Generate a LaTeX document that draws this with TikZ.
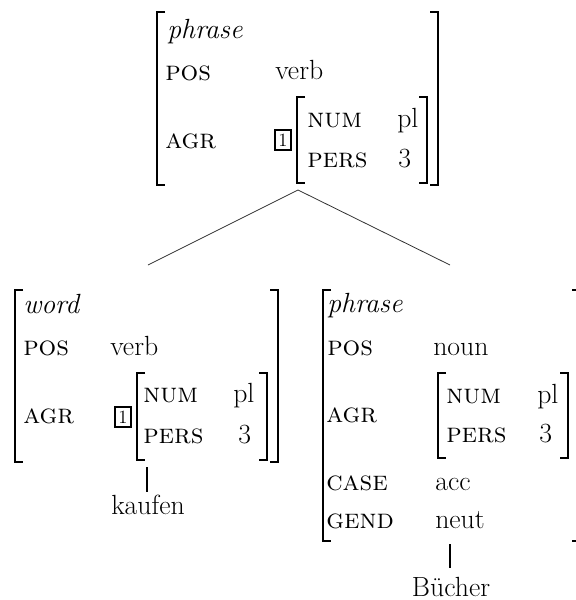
\documentclass[tikz,border=0pt]{standalone}
\begin{document}
\begin{tikzpicture}[x=0.75pt, y=-0.75pt,
    every node/.style={inner sep=0pt, anchor=base west, font=\fontsize{20.8}{24}\selectfont},
    feat/.style={font=\fontsize{20.8}{24}\selectfont\scshape},
    tagbox/.style={draw, line width=1.3pt, anchor=center, minimum width=12.5pt, minimum height=14.5pt, font=\fontsize{14}{16}\selectfont},
    brak/.style={line width=1.1pt},
    branch/.style={line width=0.6pt, draw=black!80},
    stem/.style={line width=1.5pt}]
  \useasboundingbox (0,0) rectangle (575,600);

  % mother node
  \node (m-type) at (167,38) {\textit{phrase}};
  \node[feat] (m-pos) at (165,80) {pos};
  \node (m-posv) at (275,79) {verb};
  \node[feat] (m-agr) at (165,148) {agr};
  \node[tagbox] (m-tag) at (283,140) {1};
  \node[feat] (m-num) at (307,127) {num};
  \node (m-numv) at (397,127) {pl};
  \node[feat] (m-pers) at (307,167) {pers};
  \node (m-persv) at (398,167) {3};

  % left daughter
  \node (l-type) at (23,313) {\textit{word}};
  \node[feat] (l-pos) at (23,355) {pos};
  \node (l-posv) at (110,355) {verb};
  \node[feat] (l-agr) at (23,423) {agr};
  \node[tagbox] (l-tag) at (123,417) {1};
  \node[feat] (l-num) at (143,402) {num};
  \node (l-numv) at (233,402) {pl};
  \node[feat] (l-pers) at (143,443) {pers};
  \node (l-persv) at (238,443) {3};

  % right daughter
  \node (r-type) at (327,312) {\textit{phrase}};
  \node[feat] (r-pos) at (327,355) {pos};
  \node (r-posv) at (433,355) {noun};
  \node[feat] (r-agr) at (326,422) {agr};
  \node[feat] (r-num) at (446,403) {num};
  \node (r-numv) at (537,403) {pl};
  \node[feat] (r-pers) at (446,442) {pers};
  \node (r-persv) at (539,442) {3};
  \node[feat] (r-case) at (326,490) {case};
  \node (r-casev) at (435,490) {acc};
  \node[feat] (r-gend) at (326,528) {gend};
  \node (r-gendv) at (435,528) {neut};

  % brackets: x/top/bottom
  \foreach \x/\t/\b in {157/12/185, 297/97/183, 15/290/462, 137/373/460, 323/290/541, 438/373/458}{
    \draw[brak] (\x+8,\t) -- (\x,\t) -- (\x,\b) -- (\x+8,\b);
  }
  \foreach \x/\t/\b in {438/12/185, 427/97/183, 278/290/462, 267/373/460, 580/290/541, 568/373/458}{
    \draw[brak] (\x-8,\t) -- (\x,\t) -- (\x,\b) -- (\x-8,\b);
  }

  % tree
  \coordinate (m-foot) at (298,190);
  \coordinate (l-head) at (148,265);
  \coordinate (r-head) at (450,265);
  \draw[branch] (l-head) -- (m-foot) -- (r-head);

  % words
  \node[anchor=base] (kaufen) at (148,514) {kaufen};
  \node[anchor=base] (buecher) at (451,596) {Bücher};
  \coordinate (l-foot) at (147,467);
  \coordinate (r-foot) at (450,544);
  \draw[stem, shorten >=1.5pt] (l-foot) -- (l-foot |- kaufen.north);
  \draw[stem, shorten >=6pt] (r-foot) -- (r-foot |- buecher.north);
\end{tikzpicture}
\end{document}
